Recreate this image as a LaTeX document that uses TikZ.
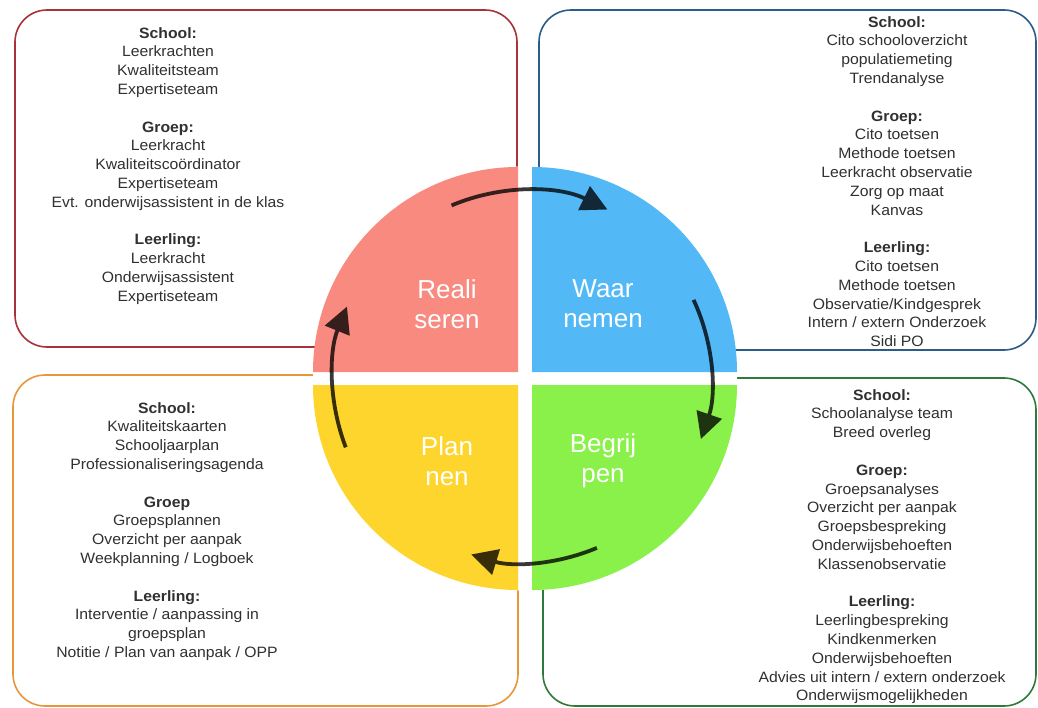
\documentclass[tikz,border=0pt]{standalone}
\usepackage{fontspec}
\setmainfont{Liberation Sans}
\newfontfamily\bodyfont[FakeStretch=1.05]{Liberation Sans}
\usetikzlibrary{arrows.meta}
\definecolor{redline}{HTML}{A83238}
\definecolor{blueline}{HTML}{2B5C8A}
\definecolor{orangeline}{HTML}{E8963A}
\definecolor{greenline}{HTML}{2F7A3A}
\definecolor{redq}{HTML}{F88A80}
\definecolor{blueq}{HTML}{52B9F6}
\definecolor{yellowq}{HTML}{FED52C}
\definecolor{greenq}{HTML}{8AF04A}
\definecolor{bodytext}{HTML}{303030}
\tikzset{
  infobox/.style={line width=1.6pt, rounded corners=32pt},
  infotext/.style={align=center, inner sep=0pt, anchor=north, text=bodytext,
    font=\bodyfont\fontsize{15}{18.8}\selectfont},
  phase/.style={align=center, text=white, inner sep=0pt,
    font=\fontsize{26}{30}\selectfont},
  cyclearrow/.style={line width=3.8pt, draw=black,
    -{Triangle[length=26pt,width=26pt]}}
}
\begin{document}
\begin{tikzpicture}[x=1pt,y=-1pt]
\useasboundingbox (0,0) rectangle (1038,708);
% boxes
\draw[infobox, redline] (15,10) rectangle (517,347);
\draw[infobox, blueline] (539,10) rectangle (1036,350);
\draw[infobox, orangeline] (13,375) rectangle (518,706);
\draw[infobox, greenline] (543,378) rectangle (1036,706);
% central disc
\coordinate (C) at (525,378.5);
\fill[white] (C) circle[radius=212];
\fill[redq] (518,372) -- ++(180:205) arc[start angle=180, end angle=270, radius=205] -- cycle;
\fill[blueq] (532,372) -- ++(270:205) arc[start angle=270, end angle=360, radius=205] -- cycle;
\fill[greenq] (532,385) -- ++(0:205) arc[start angle=0, end angle=90, radius=205] -- cycle;
\fill[yellowq] (518,385) -- ++(90:205) arc[start angle=90, end angle=180, radius=205] -- cycle;
% phase labels
\node[phase] (real) at (447,304) {Reali\\seren};
\node[phase] (waar) at (603,304) {Waar\\nemen};
\node[phase] (plan) at (447,461) {Plan\\nen};
\node[phase] (begr) at (603,461) {Begrij\\pen};
% cycle arrows
\path (C) ++(-113:188) coordinate (a1);
\path (C) ++(-25:186) coordinate (a2);
\path (C) ++(67:184) coordinate (a3);
\path (C) ++(159:192) coordinate (a4);
\begin{scope}[transparency group, opacity=0.78]
\draw[cyclearrow] (a1) arc[start angle=-113, end angle=-64, radius=188];
\end{scope}
\begin{scope}[transparency group, opacity=0.78]
\draw[cyclearrow] (a2) arc[start angle=-25, end angle=19, radius=186];
\end{scope}
\begin{scope}[transparency group, opacity=0.78]
\draw[cyclearrow] (a3) arc[start angle=67, end angle=107, radius=184];
\end{scope}
\begin{scope}[transparency group, opacity=0.78]
\draw[cyclearrow] (a4) arc[start angle=159, end angle=202, radius=192];
\end{scope}
% texts
\node[infotext] (redtext) at (168,27) {\textbf{School:}\\Leerkrachten\\Kwaliteitsteam\\Expertiseteam\\[18.8pt]
\textbf{Groep:}\\Leerkracht\\Kwaliteitscoördinator\\Expertiseteam\\Evt. onderwijsassistent in de klas\\[18.8pt]
\textbf{Leerling:}\\Leerkracht\\Onderwijsassistent\\Expertiseteam};
\node[infotext] (bluetext) at (897,16) {\textbf{School:}\\Cito schooloverzicht\\populatiemeting\\Trendanalyse\\[18.8pt]
\textbf{Groep:}\\Cito toetsen\\Methode toetsen\\Leerkracht observatie\\Zorg op maat\\Kanvas\\[18.8pt]
\textbf{Leerling:}\\Cito toetsen\\Methode toetsen\\Observatie/Kindgesprek\\Intern / extern Onderzoek\\Sidi PO};
\node[infotext] (yellowtext) at (167,402) {\textbf{School:}\\Kwaliteitskaarten\\Schooljaarplan\\Professionaliseringsagenda\\[18.8pt]
\textbf{Groep}\\Groepsplannen\\Overzicht per aanpak\\Weekplanning / Logboek\\[18.8pt]
\textbf{Leerling:}\\Interventie / aanpassing in\\groepsplan\\Notitie / Plan van aanpak / OPP};
\node[infotext] (greentext) at (882,389) {\textbf{School:}\\Schoolanalyse team\\Breed overleg\\[18.8pt]
\textbf{Groep:}\\Groepsanalyses\\Overzicht per aanpak\\Groepsbespreking\\Onderwijsbehoeften\\Klassenobservatie\\[18.8pt]
\textbf{Leerling:}\\Leerlingbespreking\\Kindkenmerken\\Onderwijsbehoeften\\Advies uit intern / extern onderzoek\\Onderwijsmogelijkheden};
\end{tikzpicture}
\end{document}
